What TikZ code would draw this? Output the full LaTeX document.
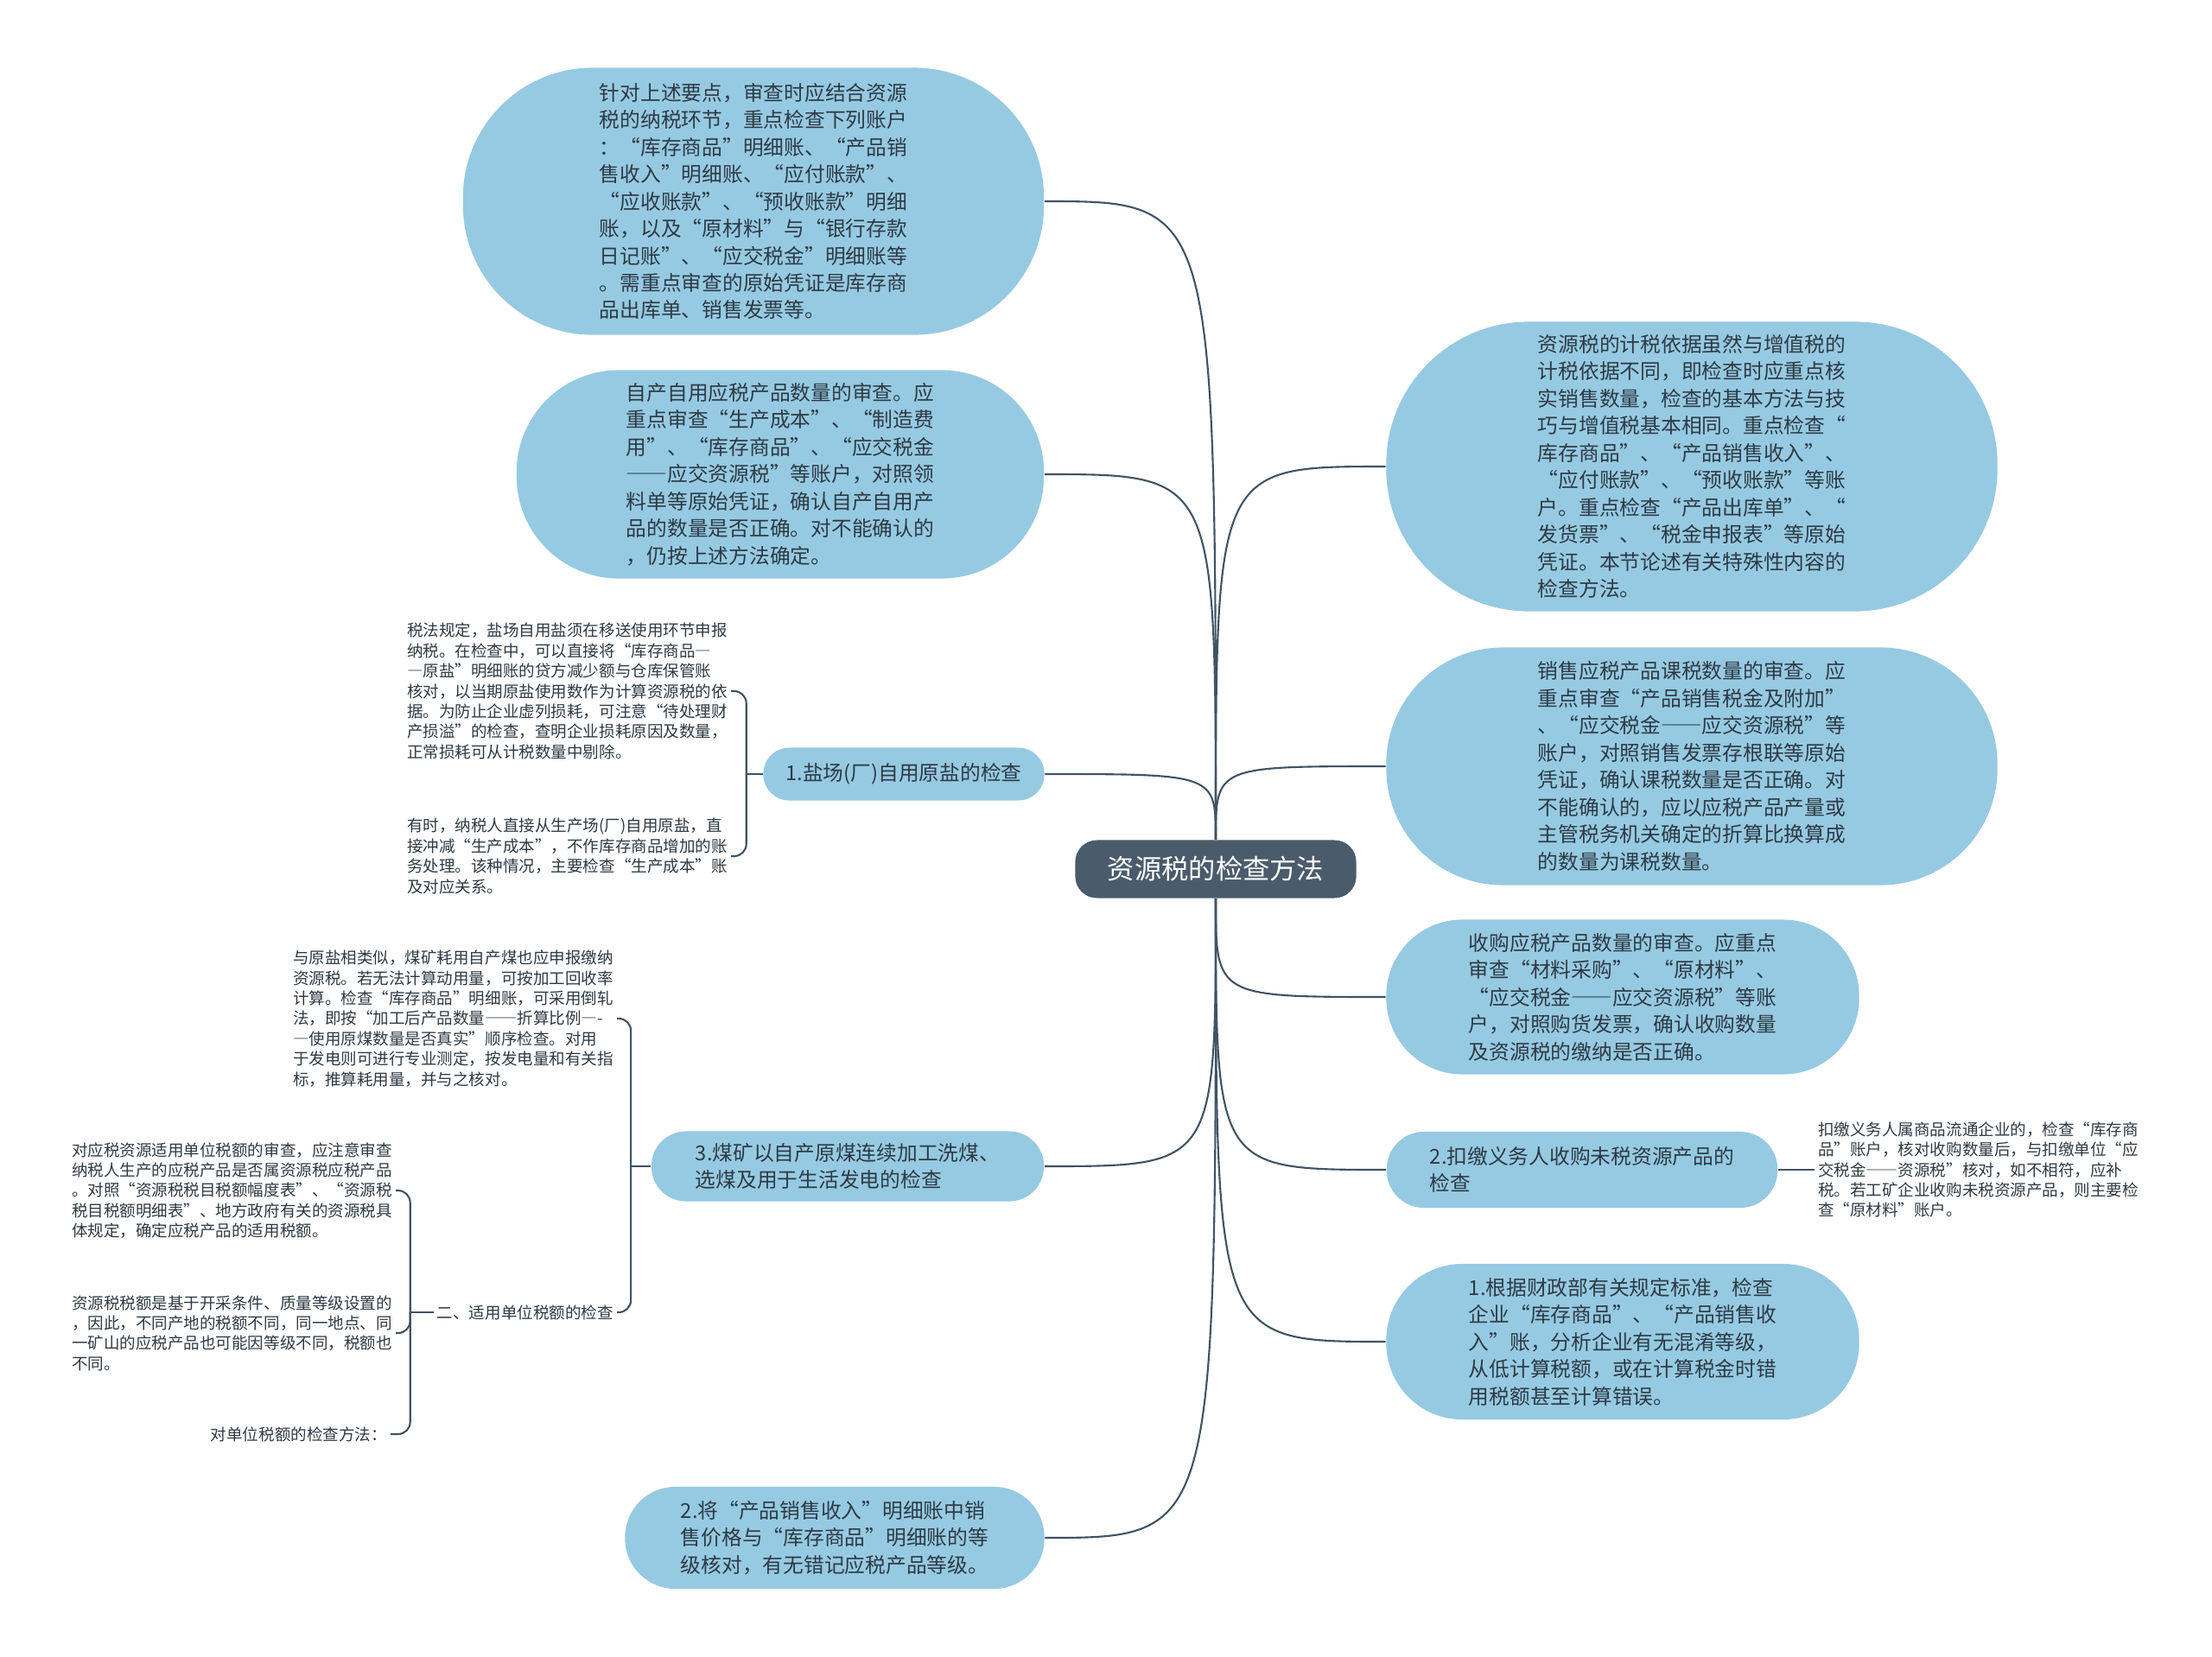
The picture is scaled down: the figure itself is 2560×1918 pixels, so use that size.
\documentclass[tikz,border=0pt]{standalone}
\usepackage{fontspec}
\setmainfont{Noto Sans CJK SC}
\newfontfamily\fwfont[RawFeature=+fwid]{Noto Sans CJK SC}
\usepackage{tikz}
\usetikzlibrary{positioning}
\usepackage[svgnames]{xcolor}
\definecolor{bubble}{HTML}{96CAE2}
\definecolor{rootfill}{HTML}{4A5C6B}
\definecolor{linkcol}{HTML}{3F5364}
\definecolor{inkcol}{HTML}{2E3A44}
\newcommand\bodysize{\fontsize{6.75}{8.95}\selectfont}
\newcommand\leafsize{\fontsize{5.27}{6.65}\selectfont}
\newcommand\rootsize{\fontsize{8.9}{10.5}\selectfont}
\newcommand\fw[1]{{\fwfont #1}}

\begin{document}
\begin{tikzpicture}[x=0.01cm, y=-0.01cm,
    link/.style={draw=linkcol, line width=0.6pt},
    pill/.style={fill=bubble, text=inkcol, align=left, inner sep=0pt, font=\bodysize, rounded corners=#1},
    leaf/.style={text=inkcol, align=left, inner sep=1pt, font=\leafsize}]
    % Canvas
    \fill[white] (0,0) rectangle (2560,1918);
    \useasboundingbox (0,0) rectangle (2560,1918);

    % Root
    \node[fill=rootfill, text=white, rounded corners=0.25cm, minimum width=3.25cm, minimum height=0.67cm, font=\rootsize] (root) at (1407,1006) {资源税的检查方法};

    % Left bubbles
    \node[pill=1.5cm, minimum width=6.72cm, minimum height=3.09cm] (accts) at (872,233) {针对上述要点，审查时应结合资源\\税的纳税环节，重点检查下列账户\\：“库存商品”明细账、“产品销\\售收入”明细账、“应付账款”、\\“应收账款”、“预收账款”明细\\账，以及“原材料”与“银行存款\\日记账”、“应交税金”明细账等\\。需重点审查的原始凭证是库存商\\品出库单、销售发票等。};
    \node[pill=1.18cm, minimum width=6.10cm, minimum height=2.41cm] (selfuse) at (903,549) {自产自用应税产品数量的审查。应\\重点审查“生产成本”、“制造费\\用”、“库存商品”、“应交税金\\\fw{——}应交资源税”等账户，对照领\\料单等原始凭证，确认自产自用产\\品的数量是否正确。对不能确认的\\，仍按上述方法确定。};
    \node[pill=0.30cm, minimum width=3.25cm, minimum height=0.61cm] (salt) at (1046,896) {1.盐场(厂)自用原盐的检查};
    \node[pill=0.40cm, minimum width=4.54cm, minimum height=0.81cm] (coal) at (981,1350) {3.煤矿以自产原煤连续加工洗煤、\\选煤及用于生活发电的检查};
    \node[pill=0.58cm, minimum width=4.85cm, minimum height=1.18cm] (grade2) at (966,1780) {2.将“产品销售收入”明细账中销\\售价格与“库存商品”明细账的等\\级核对，有无错记应税产品等级。};

    % Right bubbles
    \node[pill=1.65cm, minimum width=7.07cm, minimum height=3.35cm] (basis) at (1958,540) {资源税的计税依据虽然与增值税的\\计税依据不同，即检查时应重点核\\实销售数量，检查的基本方法与技\\巧与增值税基本相同。重点检查“\\库存商品”、“产品销售收入”、\\“应付账款”、“预收账款”等账\\户。重点检查“产品出库单”、“\\发货票”、“税金申报表”等原始\\凭证。本节论述有关特殊性内容的\\检查方法。};
    \node[pill=1.35cm, minimum width=7.07cm, minimum height=2.75cm] (sales) at (1958,887) {销售应税产品课税数量的审查。应\\重点审查“产品销售税金及附加”\\、“应交税金\fw{——}应交资源税”等\\账户，对照销售发票存根联等原始\\凭证，确认课税数量是否正确。对\\不能确认的，应以应税产品产量或\\主管税务机关确定的折算比换算成\\的数量为课税数量。};
    \node[pill=0.88cm, minimum width=5.47cm, minimum height=1.79cm] (purch) at (1878,1154) {收购应税产品数量的审查。应重点\\审查“材料采购”、“原材料”、\\“应交税金\fw{——}应交资源税”等账\\户，对照购货发票，确认收购数量\\及资源税的缴纳是否正确。};
    \node[pill=0.43cm, minimum width=4.52cm, minimum height=0.88cm] (withhold) at (1831,1354) {2.扣缴义务人收购未税资源产品的\\检查};
    \node[pill=0.88cm, minimum width=5.47cm, minimum height=1.80cm] (grade1) at (1878,1553) {1.根据财政部有关规定标准，检查\\企业“库存商品”、“产品销售收\\入”账，分析企业有无混淆等级，\\从低计算税额，或在计算税金时错\\用税额甚至计算错误。};

    % Leaf texts
    \node[leaf, anchor=west] (withholdtxt) at (2100,1354) {扣缴义务人属商品流通企业的，检查“库存商\\品”账户，核对收购数量后，与扣缴单位“应\\交税金\fw{——}资源税”核对，如不相符，应补\\税。若工矿企业收购未税资源产品，则主要检\\查“原材料”账户。};
    \node[leaf, anchor=east] (salta) at (846,800) {税法规定，盐场自用盐须在移送使用环节申报\\纳税。在检查中，可以直接将“库存商品\fw{—}\\\fw{—}原盐”明细账的贷方减少额与仓库保管账\\核对，以当期原盐使用数作为计算资源税的依\\据。为防止企业虚列损耗，可注意“待处理财\\产损溢”的检查，查明企业损耗原因及数量，\\正常损耗可从计税数量中剔除。};
    \node[leaf, anchor=east] (saltb) at (846,991) {有时，纳税人直接从生产场(厂)自用原盐，直\\接冲减“生产成本”，不作库存商品增加的账\\务处理。该种情况，主要检查“生产成本”账\\及对应关系。};
    \node[leaf, anchor=east] (coala) at (714,1179) {与原盐相类似，煤矿耗用自产煤也应申报缴纳\\资源税。若无法计算动用量，可按加工回收率\\计算。检查“库存商品”明细账，可采用倒轧\\法，即按“加工后产品数量\fw{——}折算比例\fw{—}-\\\fw{—}使用原煤数量是否真实”顺序检查。对用\\于发电则可进行专业测定，按发电量和有关指\\标，推算耗用量，并与之核对。};
    \node[leaf, anchor=east] (unitrate) at (714,1519) {二、适用单位税额的检查};
    \node[leaf, anchor=east] (ratea) at (458,1378) {对应税资源适用单位税额的审查，应注意审查\\纳税人生产的应税产品是否属资源税应税产品\\。对照“资源税税目税额幅度表”、“资源税\\税目税额明细表”、地方政府有关的资源税具\\体规定，确定应税产品的适用税额。};
    \node[leaf, anchor=east] (rateb) at (458,1543) {资源税税额是基于开采条件、质量等级设置的\\，因此，不同产地的税额不同，同一地点、同\\一矿山的应税产品也可能因等级不同，税额也\\不同。};
    \node[leaf, anchor=east] (ratec) at (452,1660) {对单位税额的检查方法：};

    % Links from root
    \foreach \t in {accts, selfuse, salt}
        \draw[link] (root.north) .. controls (root.north |- \t.east) .. (\t.east);
    \foreach \t in {coal, grade2}
        \draw[link] (root.south) .. controls (root.south |- \t.east) .. (\t.east);
    \foreach \t in {basis, sales}
        \draw[link] (root.north) .. controls (root.north |- \t.west) .. (\t.west);
    \foreach \t in {purch, withhold, grade1}
        \draw[link] (root.south) .. controls (root.south |- \t.west) .. (\t.west);

    % Brackets
    \draw[link] (withhold.east) -- (withholdtxt.west);
    \draw[link] (salt.west) -- ++(-19,0) coordinate (saltspine);
    \foreach \t in {salta, saltb}
        \draw[link, rounded corners=4pt] (saltspine) |- (\t.east);
    \draw[link] (coal.west) -- ++(-23,0) coordinate (coalspine);
    \foreach \t in {coala, unitrate}
        \draw[link, rounded corners=4pt] (coalspine) |- (\t.east);
    \draw[link] (unitrate.west) -- ++(-27,0) coordinate (ratespine);
    \foreach \t in {ratea, rateb, ratec}
        \draw[link, rounded corners=4pt] (ratespine) |- (\t.east);
\end{tikzpicture}
\end{document}
